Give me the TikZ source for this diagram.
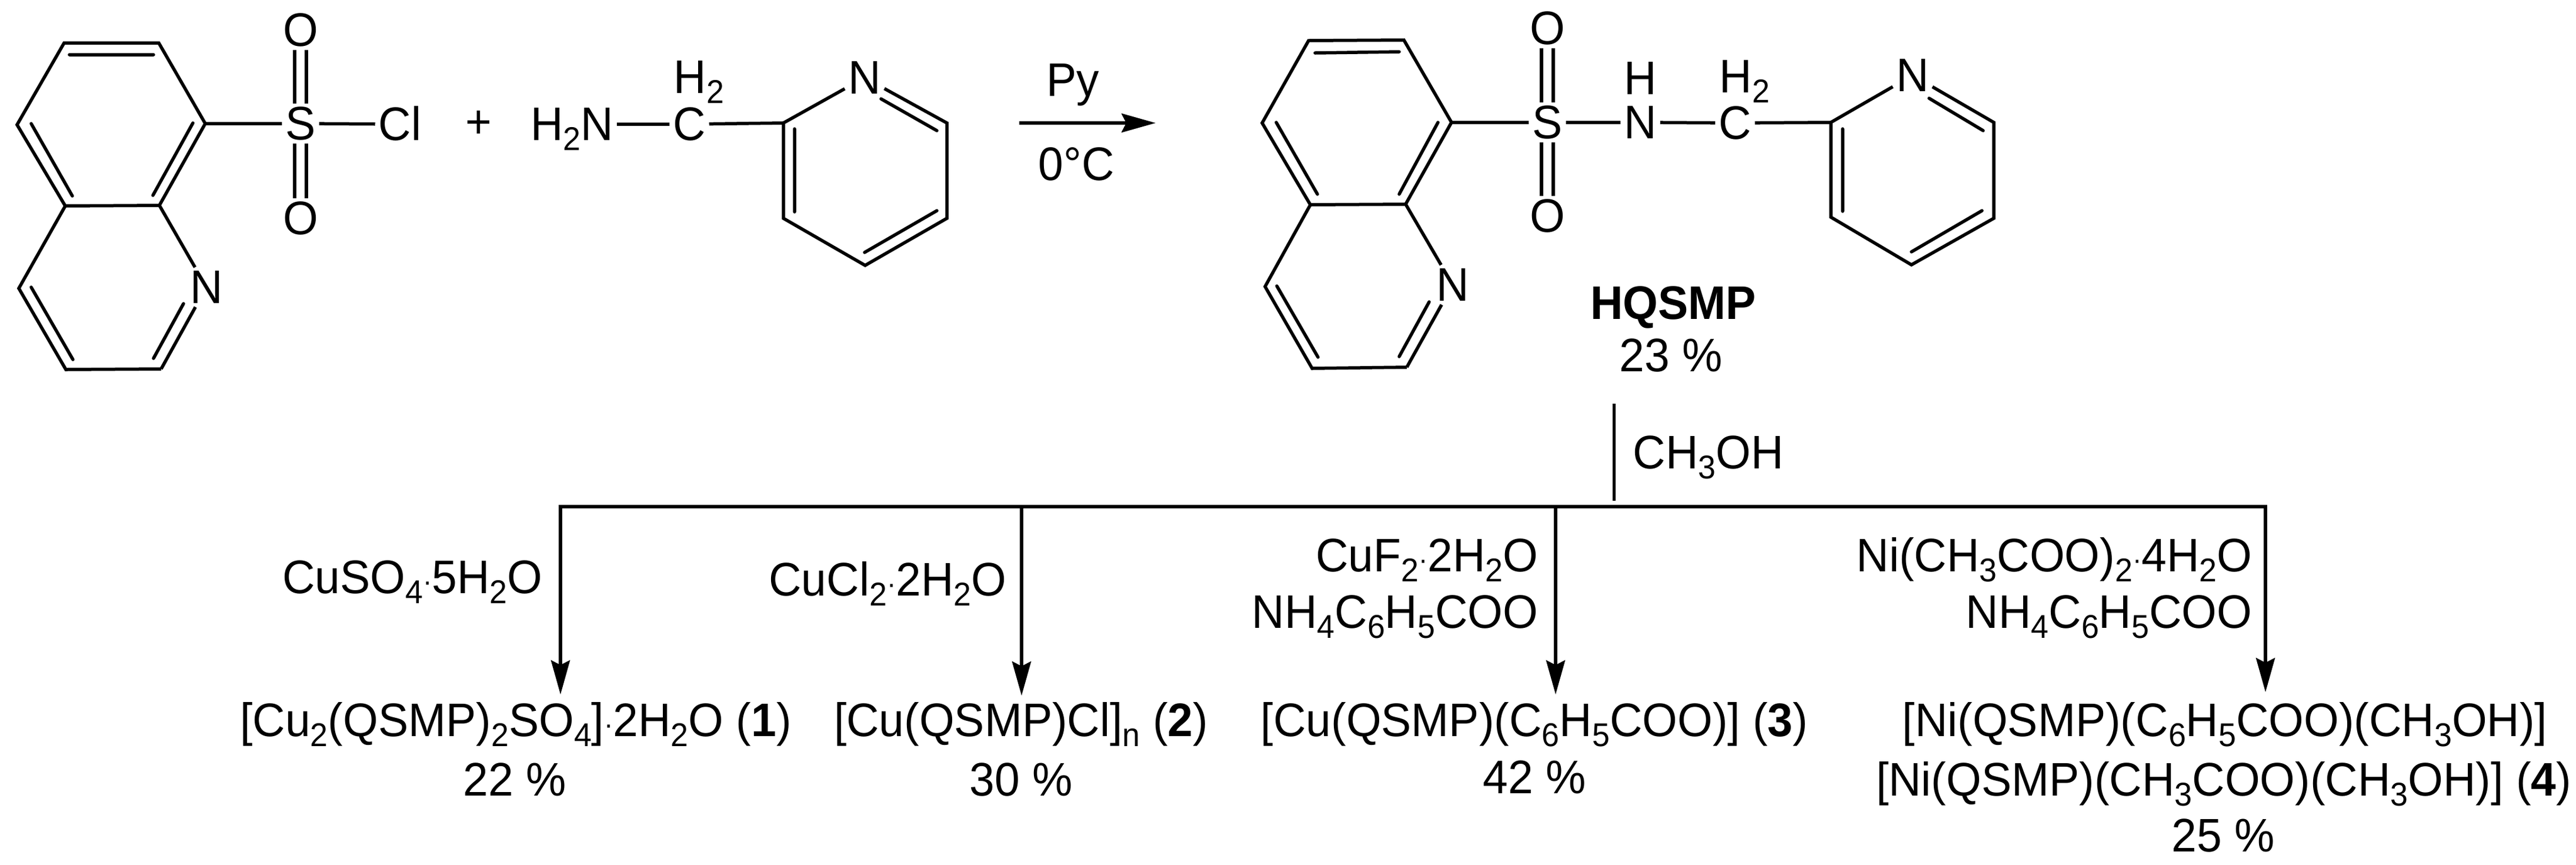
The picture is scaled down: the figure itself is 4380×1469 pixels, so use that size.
\documentclass[tikz,border=0pt]{standalone}
\usepackage{fontspec}
\setmainfont[FakeStretch=0.96]{Liberation Sans}
\usetikzlibrary{arrows.meta}
\newcommand{\chsub}[1]{\raisebox{-4.25pt}{\fontsize{14pt}{14pt}\selectfont #1}}
\newcommand{\chdot}{\raisebox{1pt}{\fontsize{12pt}{12pt}\selectfont ·}}
\tikzset{
  bondline/.style={line width=1.375pt,line join=miter},
  innerbond/.style={line width=1.375pt,line cap=round},
  barline/.style={line width=1.6pt},
  atom/.style={font=\fontsize{20pt}{20pt}\selectfont,text height=13.5pt,text depth=0pt,inner xsep=1.3pt,inner ysep=1.5pt},
  lab/.style={font=\fontsize{20pt}{20pt}\selectfont,inner sep=0pt,anchor=base},
  labr/.style={lab,anchor=base east},
  prod/.style={lab,text height=13.5pt,text depth=0pt,inner xsep=0pt,inner ysep=4pt},
  rxnarrow/.style={line width=1.375pt,-{Stealth[length=14.5pt,width=8pt,inset=2pt]}}
}
\begin{document}
\begin{tikzpicture}[x=0.25pt,y=-0.25pt]
\useasboundingbox (0,0) rectangle (4380,1469);
% --- left quinoline sulfonyl chloride
\coordinate (a1) at (109,73);
\coordinate (a2) at (270,73);
\coordinate (a3) at (349,210);
\coordinate (a4) at (271,349);
\coordinate (a5) at (111,350);
\coordinate (a6) at (29,212);
\coordinate (a7) at (32,490);
\coordinate (a8) at (112,628);
\coordinate (a9) at (274,627);
\node[atom] (aN) at (351,488) {N};
\node[atom] (aS) at (511,210) {S};
\node[atom] (aO1) at (511,51) {O};
\node[atom] (aO2) at (511,371) {O};
\node[atom] (aCl) at (680,211) {Cl};
\draw[bondline] (a5)--(a6)--(a1)--(a2)--(a3)--(a4)--cycle;
\draw[bondline] (a5)--(a7)--(a8)--(a9);
\draw[bondline] (a4)--(aN) (aN)--(a9);
\draw[bondline] (a3)--(aS) (aS)--(aCl);
\draw[bondline] ([xshift=-2.5pt]aS.north)--([xshift=-2.5pt]aO1.south) ([xshift=2.5pt]aS.north)--([xshift=2.5pt]aO1.south);
\draw[bondline] ([xshift=-2.5pt]aS.south)--([xshift=-2.5pt]aO2.north) ([xshift=2.5pt]aS.south)--([xshift=2.5pt]aO2.north);
\draw[innerbond] (118,93)--(261,93) (328,209)--(260,332) (53,210)--(123,333) (53,488)--(124,611) (312,516)--(261,609);
\node[lab] (plus) at (814,234) {+};
% --- picolylamine
\node[atom,anchor=west] (bNH) at (896,211) {H\chsub{2}N};
\node[atom] (bC) at (1172,211) {C};
\node[lab,anchor=base west] (bH) at (1145,158) {H\chsub{2}};
\coordinate (b2) at (1332,209);
\node[atom] (bN) at (1470,132) {N};
\coordinate (b6) at (1610,209);
\coordinate (b5) at (1610,371);
\coordinate (b4) at (1471,451);
\coordinate (b3) at (1332,371);
\draw[bondline] (bNH)--(bC) (bC)--(b2);
\draw[bondline] (bN)--(b2)--(b3)--(b4)--(b5)--(b6)--(bN);
\draw[innerbond] (1351,219)--(1351,360) (1498,168)--(1593,222) (1593,358)--(1470,429);
% --- reaction arrow
\coordinate (r1) at (1733,209);
\coordinate (r2) at (1965,209);
\draw[rxnarrow] (r1)--(r2);
\node[lab] (rPy) at (1824,163) {Py};
\node[lab] (rT) at (1830,306) {0°C};
% --- HQSMP
\coordinate (c1) at (2225,69);
\coordinate (c2) at (2387,68);
\coordinate (c3) at (2468,208);
\coordinate (c4) at (2390,347);
\coordinate (c5) at (2228,348);
\coordinate (c6) at (2146,209);
\coordinate (c7) at (2151,487);
\coordinate (c8) at (2231,626);
\coordinate (c9) at (2392,624);
\node[atom] (cN) at (2470,484) {N};
\node[atom] (cS) at (2631,208) {S};
\node[atom] (cO1) at (2631,48) {O};
\node[atom] (cO2) at (2631,367) {O};
\node[atom] (cNH) at (2789,208) {N};
\node[lab] (cHa) at (2789,160) {H};
\node[atom] (cC) at (2950,209) {C};
\node[lab,anchor=base west] (cHb) at (2923,157) {H\chsub{2}};
\coordinate (d2) at (3113,208);
\node[atom] (dN) at (3252,128) {N};
\coordinate (d6) at (3390,208);
\coordinate (d5) at (3390,371);
\coordinate (d4) at (3250,450);
\coordinate (d3) at (3113,369);
\draw[bondline] (c5)--(c6)--(c1)--(c2)--(c3)--(c4)--cycle;
\draw[bondline] (c5)--(c7)--(c8)--(c9);
\draw[bondline] (c4)--(cN) (cN)--(c9);
\draw[bondline] (c3)--(cS) (cS)--(cNH) (cNH)--(cC) (cC)--(d2);
\draw[bondline] ([xshift=-2.5pt]cS.north)--([xshift=-2.5pt]cO1.south) ([xshift=2.5pt]cS.north)--([xshift=2.5pt]cO1.south);
\draw[bondline] ([xshift=-2.5pt]cS.south)--([xshift=-2.5pt]cO2.north) ([xshift=2.5pt]cS.south)--([xshift=2.5pt]cO2.north);
\draw[bondline] (dN)--(d2)--(d3)--(d4)--(d5)--(d6)--(dN);
\draw[innerbond] (2236,90)--(2379,88) (2445,208)--(2379,330) (2170,208)--(2240,330) (2171,486)--(2241,607) (2430,513)--(2379,606);
\draw[innerbond] (3133,219)--(3133,359) (3280,167)--(3372,222) (3370,358)--(3250,428);
\node[lab] (hq) at (2845,542) {\textbf{HQSMP}};
\node[lab] (hqy) at (2841,631) {23 \%};
% --- distribution bar
\coordinate (v1) at (2744,686);
\coordinate (v2) at (2744,851);
\draw[line width=1.25pt] (v1)--(v2);
\node[lab,anchor=base west] (meoh) at (2776,796) {CH\chsub{3}OH};
\coordinate (e1) at (953,861);
\coordinate (e2) at (1737,861);
\coordinate (e3) at (2645,861);
\coordinate (e4) at (3852,861);
\draw[barline] ([xshift=-0.7pt]e1)--([xshift=0.7pt]e4);
% --- products and reagents
\node[prod] (p1) at (877,1251) {[Cu\chsub{2}(QSMP)\chsub{2}SO\chsub{4}]\chdot 2H\chsub{2}O (\textbf{1})};
\node[lab] (y1) at (875,1352) {22 \%};
\node[prod,inner ysep=3.5pt] (p2) at (1736,1251) {[Cu(QSMP)Cl]\chsub{n} (\textbf{2})};
\node[lab] (y2) at (1736,1352) {30 \%};
\node[prod] (p3) at (2609,1251) {[Cu(QSMP)(C\chsub{6}H\chsub{5}COO)] (\textbf{3})};
\node[lab] (y3) at (2609,1348) {42 \%};
\node[prod,inner ysep=5pt] (p4) at (3783,1251) {[Ni(QSMP)(C\chsub{6}H\chsub{5}COO)(CH\chsub{3}OH)]};
\node[lab] (p4b) at (3781,1352) {[Ni(QSMP)(CH\chsub{3}COO)(CH\chsub{3}OH)] (\textbf{4})};
\node[lab] (y4) at (3780,1447) {25 \%};
\draw[rxnarrow] (e1)--(e1 |- p1.north);
\draw[rxnarrow] (e2)--(e2 |- p2.north);
\draw[rxnarrow] (e3)--(e3 |- p3.north);
\draw[rxnarrow] (e4)--(e4 |- p4.north);
\node[labr] (s1) at (923,1008) {CuSO\chsub{4}\chdot 5H\chsub{2}O};
\node[labr] (s2) at (1712,1012) {CuCl\chsub{2}\chdot 2H\chsub{2}O};
\node[labr] (s3a) at (2616,971) {CuF\chsub{2}\chdot 2H\chsub{2}O};
\node[labr] (s3b) at (2616,1067) {NH\chsub{4}C\chsub{6}H\chsub{5}COO};
\node[labr] (s4a) at (3830,971) {Ni(CH\chsub{3}COO)\chsub{2}\chdot 4H\chsub{2}O};
\node[labr] (s4b) at (3830,1067) {NH\chsub{4}C\chsub{6}H\chsub{5}COO};
\end{tikzpicture}
\end{document}
